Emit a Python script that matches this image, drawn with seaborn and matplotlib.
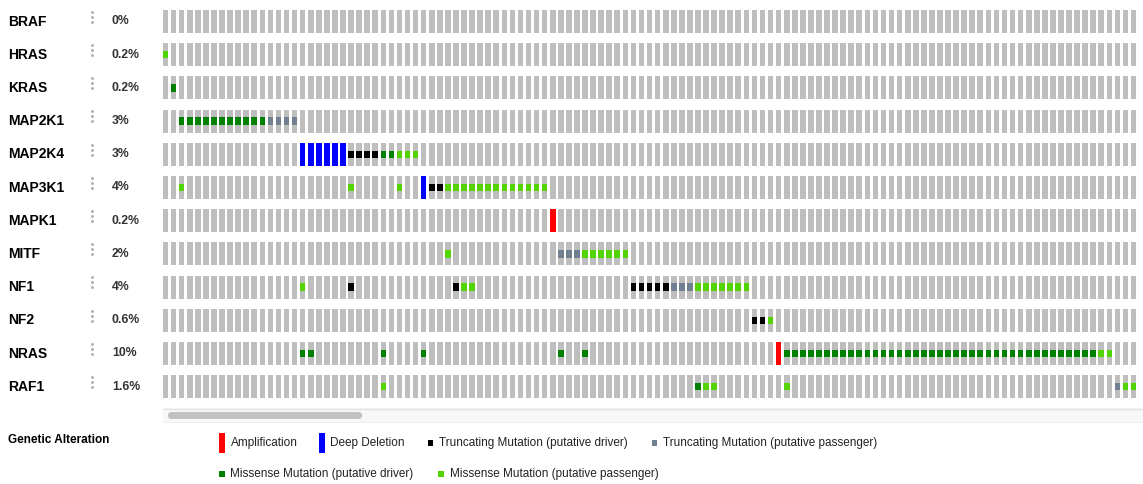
import matplotlib
matplotlib.use("Agg")
import matplotlib.pyplot as plt
from matplotlib.patches import Rectangle, FancyBboxPatch
import pandas as pd
import seaborn as sns

# genes (rows) and the altered-sample percentages shown next to them
genes = ["BRAF", "HRAS", "KRAS", "MAP2K1", "MAP2K4", "MAP3K1", "MAPK1",
         "MITF", "NF1", "NF2", "NRAS", "RAF1"]
percents = ["0%", "0.2%", "0.2%", "3%", "3%", "4%", "0.2%", "2%", "4%",
            "0.6%", "10%", "1.6%"]
n_visible = 121  # sample columns visible in the scrolled window

# sample columns carrying each alteration, per gene
amplification = {"MAPK1": [48], "NRAS": [76]}
deep_deletion = {"MAP2K4": [17, 18, 19, 20, 21, 22], "MAP3K1": [32]}
trunc_driver = {
    "MAP2K4": [23, 24, 25, 26],
    "MAP3K1": [33, 34],
    "NF1": [23, 36, 58, 59, 60, 61, 62],
    "NF2": [73, 74],
}
trunc_passenger = {
    "MAP2K1": [13, 14, 15, 16],
    "MITF": [49, 50, 51],
    "NF1": [63, 64, 65],
    "RAF1": [118],
}
missense_driver = {
    "KRAS": [1],
    "MAP2K1": [2, 3, 4, 5, 6, 7, 8, 9, 10, 11, 12],
    "MAP2K4": [27, 28],
    "NRAS": [17, 18, 27, 32, 49, 52,
             77, 78, 79, 80, 81, 82, 83, 84, 85, 86, 87, 88, 89, 90, 91, 92,
             93, 94, 95, 96, 97, 98, 99, 100, 101, 102, 103, 104, 105, 106,
             107, 108, 109, 110, 111, 112, 113, 114, 115],
    "RAF1": [66],
}
missense_passenger = {
    "HRAS": [0],
    "MAP2K4": [29, 30, 31],
    "MAP3K1": [2, 23, 29, 35, 36, 37, 38, 39, 40, 41, 42, 43, 44, 45, 46, 47],
    "MITF": [35, 52, 53, 54, 55, 56, 57],
    "NF1": [17, 37, 38, 66, 67, 68, 69, 70, 71, 72],
    "NF2": [75],
    "NRAS": [116, 117],
    "RAF1": [27, 67, 68, 77, 119, 120],
}

colors = {
    "Amplification": "#FF0000",
    "Deep Deletion": "#0000FF",
    "Truncating Mutation (putative driver)": "#000000",
    "Truncating Mutation (putative passenger)": "#708090",
    "Missense Mutation (putative driver)": "#008000",
    "Missense Mutation (putative passenger)": "#53D400",
}
sources = [
    ("Amplification", amplification),
    ("Deep Deletion", deep_deletion),
    ("Truncating Mutation (putative driver)", trunc_driver),
    ("Truncating Mutation (putative passenger)", trunc_passenger),
    ("Missense Mutation (putative driver)", missense_driver),
    ("Missense Mutation (putative passenger)", missense_passenger),
]

records = []
for kind, table in sources:
    for gene, cols in table.items():
        for c in cols:
            records.append((gene, genes.index(gene), c, kind))
df = pd.DataFrame(records, columns=["gene", "row", "sample", "alteration"])

sns.set_theme(style="white")
plt.rcParams["font.family"] = ["Liberation Sans", "DejaVu Sans"]

W, H = 1143, 484
fig = plt.figure(figsize=(W / 100, H / 100), dpi=100)

# overlay in pixel coordinates for labels and legend
bg = fig.add_axes([0, 0, 1, 1])
bg.set_xlim(0, W)
bg.set_ylim(H, 0)
bg.axis("off")

# main oncoprint axes: one x unit per sample column, one y unit per row
px_col = 8.067
px_row = 33.2
left_px, top_px = 162.7, 10.0
ax_w = W - left_px
ax_h = px_row * len(genes)
ax = fig.add_axes([left_px / W, (H - top_px - ax_h) / H, ax_w / W, ax_h / H])
ax.set_xlim(0, ax_w / px_col)
ax.set_ylim(len(genes), 0)
ax.axis("off")

bar_w = 0.70
bar_h = 23.0 / px_row
mut_h = 7.4 / px_row

for k, gene in enumerate(genes):
    ax.bar(range(n_visible), bar_h, bottom=k, width=bar_w, align="edge",
           color="#BEBEBE", linewidth=0)

for kind, sub in df.groupby("alteration"):
    full = kind in ("Amplification", "Deep Deletion")
    h = bar_h if full else mut_h
    bottom = sub["row"] + (0 if full else (bar_h - mut_h) / 2)
    ax.bar(sub["sample"], h, bottom=bottom, width=bar_w, align="edge",
           color=colors[kind], linewidth=0, zorder=3)

# row labels, menu dots and percentages
for k, gene in enumerate(genes):
    yc = top_px + k * px_row + 11.5
    bg.text(8, yc, gene, fontsize=10, fontweight="bold", color="#000000",
            va="center", ha="left")
    bg.text(112, yc, percents[k], fontsize=8.8, fontweight="bold",
            color="#333333", va="center", ha="left")
    bg.scatter([91.7, 91.7, 91.7], [yc - 9.8, yc - 4.8, yc + 0.2],
               s=4.5, color="#B0B0B0", linewidths=0)

# scroll bar strip
bg.add_patch(Rectangle((163, 408), W - 163, 14, facecolor="#F8F8F8",
                       edgecolor="none"))
bg.plot([163, W], [408.5, 408.5], color="#E2E2E2", lw=1)
bg.plot([163, W], [422, 422], color="#EFEFEF", lw=0.8)
bg.add_patch(FancyBboxPatch((168, 412), 194, 7,
                            boxstyle="round,pad=0,rounding_size=3.5",
                            facecolor="#C1C1C1", edgecolor="none"))

# legend
bg.text(8, 440, "Genetic Alteration", fontsize=8.5, fontweight="bold",
        color="#000000", va="center", ha="left")
legend_items = [
    ("Amplification", 219, 443, "full"),
    ("Deep Deletion", 319, 443, "full"),
    ("Truncating Mutation (putative driver)", 427.5, 443, "small"),
    ("Truncating Mutation (putative passenger)", 651.5, 443, "small"),
    ("Missense Mutation (putative driver)", 219, 474.3, "small"),
    ("Missense Mutation (putative passenger)", 438, 474.3, "small"),
]
for label, x, y, style in legend_items:
    if style == "full":
        bg.add_patch(Rectangle((x, y - 10), 6, 20, facecolor=colors[label],
                               edgecolor="none"))
        tx = x + 11.5
    else:
        bg.add_patch(Rectangle((x, y - 3), 5.5, 6, facecolor=colors[label],
                               edgecolor="none"))
        tx = x + 11.5
    bg.text(tx, y, label, fontsize=8.5, color="#222222", va="center",
            ha="left")

fig.savefig("out.png", dpi=100)
